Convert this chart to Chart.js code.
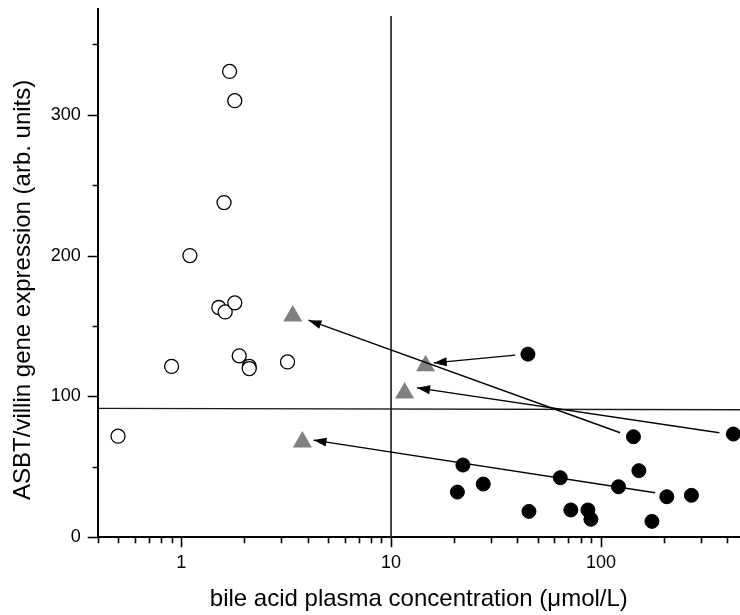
<!DOCTYPE html>
<html>
<head>
<meta charset="utf-8">
<script src="https://cdn.jsdelivr.net/npm/chart.js@4/dist/chart.umd.min.js"></script>
<style>
  html, body { margin: 0; padding: 0; background: #fff; }
  #wrap { width: 740px; height: 615px; position: relative; }
</style>
</head>
<body>
<div id="wrap"><canvas id="c" width="740" height="615"></canvas></div>
<script>
// ---- data ----
const openX = [0.50, 0.90, 1.10, 1.51, 1.60, 1.62, 1.70, 1.80, 1.80, 1.89, 2.11, 2.11, 3.21];
const openY = [71.8, 121.3, 200, 163.1, 237.6, 160, 330.7, 309.9, 166.4, 128.8, 121.3, 119.8, 124.5];

const filledX = [20.7, 22.0, 27.5, 44.9, 45.4, 64.0, 71.9, 86.7, 89.6, 121.3, 142.9, 151.7, 175, 206, 270, 427.6];
const filledY = [32.1, 51.3, 37.8, 130, 18.4, 42.3, 19.4, 19.4, 12.8, 35.9, 71.4, 47.3, 11.3, 28.8, 29.8, 73.3];

const triX = [3.40, 3.78, 11.6, 14.6];
const triY = [157, 67.7, 102.5, 121.8];

// arrows: from filled circle (start) to triangle (tip)
const arrowFromX = [123.6, 39.1, 367, 181.4];
const arrowFromY = [74.2, 129.3, 74.2, 31.6];
const arrowToX   = [4.04, 15.97, 13.3, 4.27];
const arrowToY   = [154.1, 123.8, 106.1, 69];

// reference lines
const vLineX = [10, 10];
const vLineY = [0, 370];
const hLineX = [0.4, 460];
const hLineY = [91.5, 90.5];

// axis ticks
const xTickLabels = [1, 10, 100];
const yTickLabels = [0, 100, 200, 300];
const yMinorTicks = [50, 150, 250, 350];
const xRange = [0.4, 460];
const yRange = [0, 375];

const FONT = 'Liberation Sans, Arial, sans-serif';
const toPts = (xs, ys) => xs.map((x, i) => ({x: x, y: ys[i]}));

const datasets = [];
for (let i = 0; i < arrowFromX.length; i++) {
  datasets.push({
    type: 'line', isArrow: true,
    data: [{x: arrowFromX[i], y: arrowFromY[i]}, {x: arrowToX[i], y: arrowToY[i]}],
    borderColor: '#000', borderWidth: 1.4, pointRadius: 0, fill: false,
    showLine: true, order: 0, clip: false
  });
}
datasets.push({
  type: 'line', data: toPts(vLineX, vLineY), borderColor: '#1a1a1a', borderWidth: 1.6,
  pointRadius: 0, showLine: true, order: 0, clip: false
});
datasets.push({
  type: 'line', data: toPts(hLineX, hLineY), borderColor: '#1a1a1a', borderWidth: 1.4,
  pointRadius: 0, showLine: true, order: 0, clip: false
});
datasets.push({
  type: 'scatter', data: toPts(triX, triY), pointStyle: 'triangle',
  pointRadius: 11, backgroundColor: '#808080', borderColor: '#808080', borderWidth: 0,
  order: 2, clip: false
});
datasets.push({
  type: 'scatter', data: toPts(openX, openY), pointStyle: 'circle',
  pointRadius: 7, backgroundColor: '#fff', borderColor: '#000', borderWidth: 1.3,
  order: 1, clip: false
});
datasets.push({
  type: 'scatter', data: toPts(filledX, filledY), pointStyle: 'circle',
  pointRadius: 7, backgroundColor: '#000', borderColor: '#000', borderWidth: 1,
  order: 1, clip: false
});

const isPow10 = v => Math.abs(Math.log10(v) - Math.round(Math.log10(v))) < 1e-9;
const noPad = s => { s.paddingTop = 0; s.paddingBottom = 0; s.paddingLeft = 0; s.paddingRight = 0; };

const tickPlugin = {
  id: 'ticksAndArrows',
  afterDatasetsDraw(chart) {
    const ctx = chart.ctx;
    chart.data.datasets.forEach((ds, i) => {
      if (!ds.isArrow) return;
      const meta = chart.getDatasetMeta(i);
      const p0 = meta.data[0], p1 = meta.data[1];
      const ang = Math.atan2(p1.y - p0.y, p1.x - p0.x);
      const L = 13, W = 4.5;
      ctx.save();
      ctx.fillStyle = '#000';
      ctx.beginPath();
      ctx.moveTo(p1.x, p1.y);
      ctx.lineTo(p1.x - L * Math.cos(ang) + W * Math.sin(ang), p1.y - L * Math.sin(ang) - W * Math.cos(ang));
      ctx.lineTo(p1.x - L * Math.cos(ang) - W * Math.sin(ang), p1.y - L * Math.sin(ang) + W * Math.cos(ang));
      ctx.closePath();
      ctx.fill();
      ctx.restore();
    });
  },
  afterDraw(chart) {
    const ctx = chart.ctx;
    const xs = chart.scales.x, ys = chart.scales.y;
    const area = chart.chartArea;
    ctx.save();
    ctx.strokeStyle = '#000';
    ctx.lineWidth = 1.6;
    ctx.beginPath();
    for (let e = -1; e <= 2; e++) {
      for (let s = 1; s <= 9; s++) {
        const v = s * Math.pow(10, e);
        if (v < xRange[0] - 1e-9 || v > xRange[1]) continue;
        const px = Math.round(xs.getPixelForValue(v)) + 0.5;
        const len = isPow10(v) ? 10 : 6;
        ctx.moveTo(px, area.bottom);
        ctx.lineTo(px, area.bottom + len);
      }
    }
    yTickLabels.concat(yMinorTicks).forEach(v => {
      const py = Math.round(ys.getPixelForValue(v)) + 0.5;
      const len = yTickLabels.includes(v) ? 10 : 5;
      ctx.moveTo(area.left, py);
      ctx.lineTo(area.left - len, py);
    });
    ctx.stroke();
    ctx.restore();
  }
};

new Chart(document.getElementById('c'), {
  data: { datasets: datasets },
  options: {
    responsive: false,
    animation: false,
    events: [],
    layout: { autoPadding: false, padding: { top: 9, right: 0, left: 0, bottom: 0 } },
    plugins: { legend: { display: false }, tooltip: { enabled: false } },
    scales: {
      x: {
        type: 'logarithmic', position: 'bottom',
        min: xRange[0], max: xRange[1],
        afterFit: s => { s.height = 77.7; noPad(s); },
        grid: { display: false, drawTicks: false },
        border: { display: true, color: '#000', width: 2 },
        ticks: {
          autoSkip: false, maxRotation: 0, padding: 15,
          color: '#000', font: { family: FONT, size: 18 },
          callback: v => (xTickLabels.some(t => Math.abs(t - v) < 1e-9) ? String(v) : '')
        },
        title: {
          display: true, text: 'bile acid plasma concentration (\u03bcmol/L)',
          color: '#000', font: { family: FONT, size: 24 },
          padding: { top: 0, bottom: 1 }
        }
      },
      y: {
        type: 'linear', position: 'left',
        min: yRange[0], max: yRange[1],
        afterFit: s => { s.width = 97.7; noPad(s); },
        afterBuildTicks: s => { s.ticks = yTickLabels.map(v => ({value: v})); },
        grid: { display: false, drawTicks: false },
        border: { display: true, color: '#000', width: 2 },
        ticks: {
          padding: 17, color: '#000',
          font: { family: FONT, size: 18 },
          callback: v => String(v)
        },
        title: {
          display: true, text: 'ASBT/villin gene expression (arb. units)     ',
          color: '#000', font: { family: FONT, size: 24 },
          padding: { top: 8.8, bottom: 0 }
        }
      }
    }
  },
  plugins: [tickPlugin]
});
</script>
</body>
</html>
